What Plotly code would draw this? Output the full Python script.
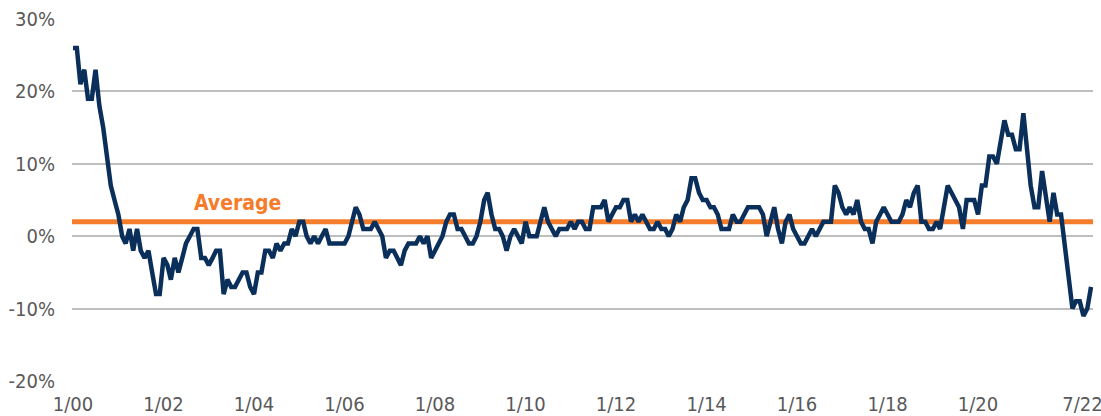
import pandas as pd
import plotly.graph_objects as go

# Monthly values (%), Jan 2000 .. Jul 2022
values = [
    26, 26, 21, 23, 19, 19, 23, 18, 15, 11, 7, 5,
    3, 0, -1, 1, -2, 1, -2, -3, -2, -5, -8, -8,
    -3, -4, -6, -3, -5, -3, -1, 0, 1, 1, -3, -3,
    -4, -3, -2, -2, -8, -6, -7, -7, -6, -5, -5, -7,
    -8, -5, -5, -2, -2, -3, -1, -2, -1, -1, 1, 0,
    2, 2, 0, -1, 0, -1, 0, 1, -1, -1, -1, -1,
    -1, 0, 2, 4, 3, 1, 1, 1, 2, 1, 0, -3,
    -2, -2, -3, -4, -2, -1, -1, -1, 0, -1, 0, -3,
    -2, -1, 0, 2, 3, 3, 1, 1, 0, -1, -1, 0,
    2, 5, 6, 3, 1, 1, 0, -2, 0, 1, 0, -1,
    2, 0, 0, 0, 2, 4, 2, 1, 0, 1, 1, 1,
    2, 1, 2, 2, 1, 1, 4, 4, 4, 5, 2, 3,
    4, 4, 5, 5, 2, 3, 2, 3, 2, 1, 1, 2,
    1, 1, 0, 1, 3, 2, 4, 5, 8, 8, 6, 5,
    5, 4, 4, 3, 1, 1, 1, 3, 2, 2, 3, 4,
    4, 4, 4, 3, 0, 2, 4, 1, -1, 2, 3, 1,
    0, -1, -1, 0, 1, 0, 1, 2, 2, 2, 7, 6,
    4, 3, 4, 3, 5, 2, 1, 1, -1, 2, 3, 4,
    3, 2, 2, 2, 3, 5, 4, 6, 7, 2, 2, 1,
    1, 2, 1, 4, 7, 6, 5, 4, 1, 5, 5, 5,
    3, 7, 7, 11, 11, 10, 13, 16, 14, 14, 12, 12,
    17, 11, 7, 4, 4, 9, 6, 2, 6, 3, 3, -1,
    -5, -10, -9, -9, -11, -10, -7,
]
dates = pd.date_range("2000-01-01", periods=len(values), freq="MS")

average_value = 2
average_label = "Average"

tick_dates = ["2000-01-01", "2002-01-01", "2004-01-01", "2006-01-01", "2008-01-01",
              "2010-01-01", "2012-01-01", "2014-01-01", "2016-01-01", "2018-01-01",
              "2020-01-01", "2022-07-01"]
tick_labels = ["1/00", "1/02", "1/04", "1/06", "1/08", "1/10", "1/12", "1/14",
               "1/16", "1/18", "1/20", "7/22"]
y_ticks = [-20, -10, 0, 10, 20, 30]
y_labels = ["-20%", "-10%", "0%", "10%", "20%", "30%"]

NAVY = "#0B2F5B"
ORANGE = "#F47C2A"
FONT = "DejaVu Sans Condensed, DejaVu Sans, sans-serif"
X_START, X_END = "1999-12-24", "2022-07-17"

# keep the last label (right at the edge) inside the picture
shown_labels = tick_labels[:-1] + [tick_labels[-1] + "&nbsp;&nbsp;&nbsp;"]

fig = go.Figure()
fig.add_trace(go.Scatter(
    x=[X_START, X_END], y=[average_value, average_value],
    mode="lines", line=dict(color=ORANGE, width=5), hoverinfo="skip",
    cliponaxis=False,
))
fig.add_trace(go.Scatter(
    x=dates, y=values, mode="lines",
    line=dict(color=NAVY, width=4.5, shape="linear"),
    cliponaxis=False,
))
fig.add_annotation(
    x="2003-08-20", y=average_value, yshift=19, text=f"<b>{average_label}</b>",
    showarrow=False, font=dict(family=FONT, size=21, color=ORANGE),
)

fig.update_layout(
    width=1101, height=416,
    margin=dict(l=72, r=8, t=19, b=35),
    paper_bgcolor="white", plot_bgcolor="white",
    showlegend=False,
    font=dict(family=FONT, size=20, color="#595959"),
    xaxis=dict(
        range=[X_START, X_END], automargin=False,
        tickvals=tick_dates, ticktext=shown_labels,
        ticklabeloverflow="allow",
        showgrid=False, zeroline=False, showline=False,
        ticks="outside", ticklen=5, tickcolor="rgba(0,0,0,0)",
        tickfont=dict(family=FONT, size=20, color="#595959"),
    ),
    yaxis=dict(
        range=[-20, 30], automargin=False, tickvals=y_ticks, ticktext=y_labels,
        showgrid=True, gridcolor="#BEBEBE", gridwidth=1.5,
        zeroline=False, showline=False,
        ticks="outside", ticklen=12, tickcolor="rgba(0,0,0,0)",
        tickfont=dict(family=FONT, size=20, color="#595959"),
    ),
)

fig.write_html(
    "out.html",
    config={"displayModeBar": False},
    post_script="document.body.style.margin='0';document.body.style.overflow='hidden';",
)
